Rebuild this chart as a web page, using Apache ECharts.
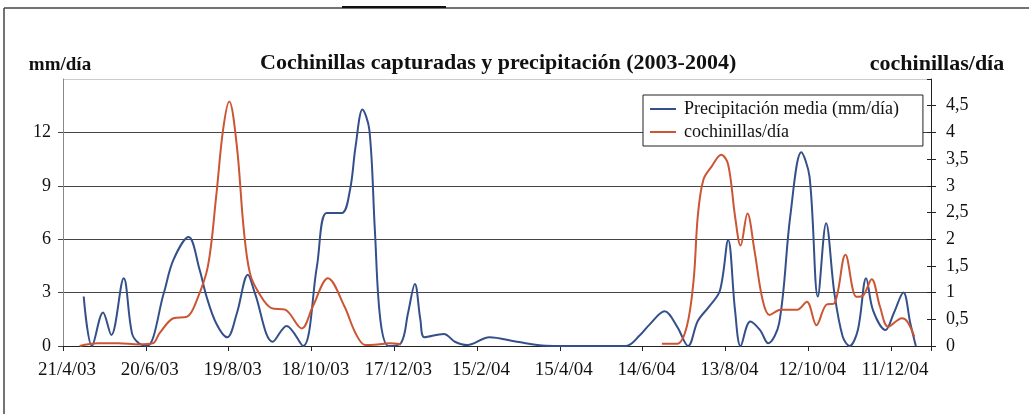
<!DOCTYPE html>
<html>
<head>
<meta charset="utf-8">
<script src="https://cdn.jsdelivr.net/npm/echarts@6/dist/echarts.min.js"></script>
<style>
  html, body { margin: 0; padding: 0; background: #fff; }
  #chart { width: 1029px; height: 414px; }
</style>
</head>
<body>
<div id="chart"></div>
<script>
// x values are days counted from 21/4/03
var xTickLabels = ["21/4/03", "20/6/03", "19/8/03", "18/10/03", "17/12/03", "15/2/04",
  "15/4/04", "14/6/04", "13/8/04", "12/10/04", "11/12/04"];

var precipDays = [15, 21, 29, 35, 44, 50, 55, 61, 73, 80, 91, 99, 104, 111, 119, 126, 134, 139,
  152, 162, 174, 184, 191, 202, 208, 212, 217, 222, 226, 230, 236, 245, 250, 255, 259, 262,
  276, 284, 293, 309, 329, 350, 380, 408, 418, 425, 436, 445, 453, 460, 468, 476, 482, 487,
  491, 498, 505, 511, 519, 527, 535, 541, 547, 553, 559, 565, 570, 576, 582, 587, 596, 602,
  609, 614, 618];
var precipValues = [2.78, 0, 1.88, 0.62, 3.81, 0.71, 0.15, 0, 2.96, 4.84, 6.12, 4.28, 2.78, 1.28,
  0.49, 1.84, 4.0, 2.98, 0.24, 1.13, 0, 4.47, 7.47, 7.47, 8.78, 11.2, 13.28, 12.15, 6.5, 1.46,
  0, 0.17, 1.84, 3.49, 1.46, 0.49, 0.68, 0.24, 0.05, 0.49, 0.24, 0.02, 0, 0, 0.6, 1.2, 1.95,
  1.09, 0, 1.4, 2.2, 3.1, 5.96, 2.0, 0, 1.37, 0.9, 0.15, 1.3, 7.28, 10.88, 9.5, 2.78, 6.9,
  2.96, 0.53, 0, 0.9, 3.81, 2.0, 0.9, 1.84, 3.0, 1.28, 0];

// '-' marks the gap in the cochinillas record
var cochDays = [12, 25, 40, 55, 65, 70, 80, 90, 97, 105, 111, 116, 120.5, 126, 131, 135.5, 142,
  151, 161, 173, 181, 192, 204, 212, 219, 228, 236, 245, 340, 434, 445, 452, 457, 460, 464,
  470, 477, 482, 487, 491, 496, 501, 507, 512, 520, 532, 539, 546, 553, 559, 567, 575, 580,
  586, 592, 598, 608, 612, 617];
var cochValues = [0, 0.05, 0.05, 0.03, 0.05, 0.24, 0.52, 0.55, 0.86, 1.49, 2.8, 4.05, 4.58, 3.74,
  2.18, 1.36, 0.99, 0.71, 0.68, 0.33, 0.74, 1.27, 0.74, 0.24, 0.02, 0.03, 0.05, 0.03, '-',
  0.04, 0.04, 0.36, 1.24, 2.43, 3.11, 3.36, 3.58, 3.4, 2.43, 1.88, 2.48, 1.8, 0.86, 0.58,
  0.68, 0.68, 0.83, 0.39, 0.77, 0.8, 1.71, 0.92, 0.95, 1.25, 0.74, 0.36, 0.52, 0.45, 0.17];

var serif = "Liberation Serif";
var blue = "#34508a";
var red = "#cc5533";
var chart = echarts.init(document.getElementById("chart"));

function pairs(xs, ys) {
  return xs.map(function (x, i) { return [x, ys[i]]; });
}

var option = {
  backgroundColor: "#fff",
  animation: false,
  title: {
    text: "Cochinillas capturadas y precipitación (2003-2004)",
    left: 255,
    top: 47,
    textStyle: { fontFamily: serif, fontWeight: "bold", fontSize: 22, color: "#111" }
  },
  legend: {
    orient: "vertical",
    left: 643,
    top: 95,
    padding: [5, 24, 5, 7],
    itemGap: 5,
    itemWidth: 26,
    itemHeight: 2,
    icon: "rect",
    backgroundColor: "#fff",
    borderColor: "#222",
    borderWidth: 1,
    borderRadius: 0,
    textStyle: { fontFamily: serif, fontSize: 18, color: "#111", padding: [0, 0, 0, 3] },
    data: ["Precipitación media (mm/día)", "cochinillas/día"]
  },
  grid: { left: 63, right: 98, top: 79, bottom: 68 },
  xAxis: {
    type: "value",
    min: 0,
    max: 629,
    interval: 60,
    axisLine: { lineStyle: { color: "#222", width: 1 } },
    axisTick: { length: 5, lineStyle: { color: "#222" } },
    splitLine: { show: false },
    axisLabel: {
      margin: 15,
      padding: [0, 0, 0, 8],
      fontFamily: serif,
      fontSize: 19,
      color: "#111",
      formatter: function (v) {
        return v % 60 === 0 ? (xTickLabels[v / 60] || "") : "";
      }
    }
  },
  yAxis: [
    {
      type: "value",
      position: "left",
      min: 0,
      max: 15,
      interval: 3,
      name: "mm/día",
      nameLocation: "end",
      nameGap: 4,
      nameTextStyle: { fontFamily: serif, fontWeight: "bold", fontSize: 19, color: "#111", padding: [0, 6, 0, 0] },
      axisLine: { show: true, lineStyle: { color: "#888" } },
      axisTick: { show: true, length: 5, lineStyle: { color: "#444" } },
      axisLabel: { margin: 12, fontFamily: serif, fontSize: 18, color: "#111", showMaxLabel: false },
      splitLine: {
        show: true,
        lineStyle: { color: ["#444", "#444", "#444", "#444", "#444", "#ccc"], width: 1.2 }
      }
    },
    {
      type: "value",
      position: "right",
      min: 0,
      max: 5,
      interval: 0.5,
      name: "cochinillas/día",
      nameLocation: "end",
      nameGap: 4,
      nameTextStyle: { fontFamily: serif, fontWeight: "bold", fontSize: 22, color: "#111", padding: [0, 0, 0, 12] },
      axisLine: { show: true, lineStyle: { color: "#222" } },
      axisTick: { show: true, length: 5, lineStyle: { color: "#222" } },
      axisLabel: {
        margin: 15,
        fontFamily: serif,
        fontSize: 18,
        color: "#111",
        showMaxLabel: false,
        formatter: function (v) { return String(v).replace(".", ","); }
      },
      splitLine: { show: false }
    },
    {
      // inner half of the cross ticks on the right axis
      type: "value",
      position: "right",
      min: 0,
      max: 5,
      interval: 0.5,
      axisLine: { show: false },
      axisTick: { show: true, inside: true, length: 4, lineStyle: { color: "#222" } },
      axisLabel: { show: false },
      splitLine: { show: false }
    }
  ],
  series: [
    {
      name: "Precipitación media (mm/día)",
      type: "line",
      yAxisIndex: 0,
      smooth: 0.35,
      symbol: "none",
      lineStyle: { color: blue, width: 2 },
      itemStyle: { color: blue },
      data: pairs(precipDays, precipValues)
    },
    {
      name: "cochinillas/día",
      type: "line",
      yAxisIndex: 1,
      smooth: 0.35,
      symbol: "none",
      lineStyle: { color: red, width: 2 },
      itemStyle: { color: red },
      data: pairs(cochDays, cochValues)
    }
  ],
  graphic: [
    { type: "line", shape: { x1: 4, y1: 8, x2: 1029, y2: 8 }, style: { stroke: "#444", lineWidth: 1.5 } },
    { type: "line", shape: { x1: 342, y1: 7, x2: 446, y2: 7 }, style: { stroke: "#111", lineWidth: 2 } },
    { type: "line", shape: { x1: 4, y1: 8, x2: 4, y2: 414 }, style: { stroke: "#444", lineWidth: 1.5 } }
  ]
};

chart.setOption(option);
</script>
</body>
</html>
